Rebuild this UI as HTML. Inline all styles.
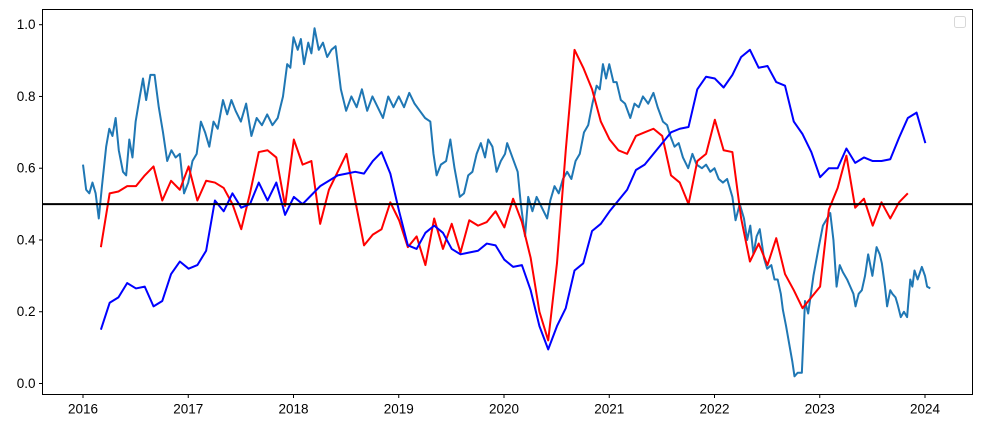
<!DOCTYPE html>
<html><head><meta charset="utf-8"><style>
html,body{margin:0;padding:0;background:#fff;}
svg{display:block;font-family:"Liberation Sans","DejaVu Sans",sans-serif;}
</style></head><body>
<svg id="chart" width="981" height="428" viewBox="0 0 981 428">
<rect x="0" y="0" width="981" height="428" fill="#fff"/>
<g id="series"></g>
<g id="axes"></g>
</svg>
<script>
const yTicks=[0.0,0.2,0.4,0.6,0.8,1.0];
const xTicks=[2016,2017,2018,2019,2020,2021,2022,2023,2024];
const threshold=0.5;
const tealDates=[2016.00,2016.03,2016.06,2016.09,2016.12,2016.15,2016.18,2016.22,2016.25,2016.28,2016.31,2016.34,2016.38,2016.41,2016.44,2016.47,2016.50,2016.54,2016.57,2016.60,2016.64,2016.68,2016.72,2016.76,2016.80,2016.84,2016.88,2016.92,2016.96,2017.00,2017.04,2017.08,2017.12,2017.16,2017.20,2017.24,2017.28,2017.33,2017.37,2017.41,2017.45,2017.50,2017.55,2017.60,2017.65,2017.70,2017.75,2017.80,2017.85,2017.90,2017.94,2017.97,2018.00,2018.04,2018.07,2018.10,2018.14,2018.17,2018.20,2018.24,2018.28,2018.32,2018.36,2018.40,2018.45,2018.50,2018.55,2018.60,2018.65,2018.70,2018.75,2018.80,2018.85,2018.90,2018.95,2019.00,2019.05,2019.10,2019.15,2019.20,2019.25,2019.30,2019.33,2019.36,2019.40,2019.45,2019.49,2019.53,2019.58,2019.62,2019.66,2019.70,2019.74,2019.78,2019.82,2019.85,2019.89,2019.93,2019.97,2020.01,2020.03,2020.08,2020.13,2020.16,2020.20,2020.23,2020.27,2020.31,2020.36,2020.41,2020.44,2020.48,2020.52,2020.56,2020.60,2020.64,2020.68,2020.72,2020.76,2020.80,2020.84,2020.88,2020.91,2020.94,2020.97,2021.00,2021.04,2021.07,2021.11,2021.15,2021.20,2021.24,2021.28,2021.32,2021.37,2021.42,2021.46,2021.51,2021.55,2021.58,2021.62,2021.66,2021.70,2021.75,2021.79,2021.83,2021.88,2021.92,2021.96,2022.00,2022.04,2022.08,2022.12,2022.17,2022.20,2022.24,2022.28,2022.31,2022.34,2022.37,2022.40,2022.43,2022.47,2022.50,2022.54,2022.57,2022.60,2022.63,2022.65,2022.68,2022.71,2022.74,2022.76,2022.79,2022.83,2022.86,2022.89,2022.94,2022.99,2023.03,2023.07,2023.10,2023.13,2023.16,2023.19,2023.22,2023.26,2023.29,2023.32,2023.34,2023.37,2023.40,2023.43,2023.46,2023.50,2023.54,2023.57,2023.59,2023.62,2023.64,2023.67,2023.69,2023.72,2023.74,2023.77,2023.80,2023.83,2023.86,2023.88,2023.90,2023.93,2023.97,2024.00,2024.02,2024.05];
const tealValues=[0.61,0.54,0.53,0.56,0.53,0.46,0.55,0.66,0.71,0.69,0.74,0.65,0.59,0.58,0.68,0.63,0.73,0.80,0.85,0.79,0.86,0.86,0.77,0.70,0.62,0.65,0.63,0.64,0.53,0.56,0.62,0.64,0.73,0.70,0.66,0.73,0.71,0.79,0.75,0.79,0.76,0.73,0.78,0.69,0.74,0.72,0.75,0.72,0.74,0.80,0.89,0.88,0.965,0.93,0.96,0.89,0.95,0.92,0.99,0.93,0.95,0.91,0.93,0.94,0.82,0.76,0.80,0.77,0.82,0.76,0.80,0.77,0.74,0.80,0.77,0.80,0.77,0.81,0.78,0.76,0.74,0.73,0.64,0.58,0.61,0.62,0.68,0.60,0.52,0.53,0.58,0.59,0.64,0.67,0.63,0.68,0.66,0.59,0.62,0.64,0.67,0.63,0.59,0.50,0.41,0.52,0.48,0.52,0.49,0.46,0.51,0.55,0.53,0.57,0.59,0.57,0.62,0.64,0.70,0.72,0.78,0.83,0.82,0.89,0.85,0.89,0.84,0.84,0.79,0.78,0.74,0.78,0.77,0.80,0.78,0.81,0.77,0.73,0.72,0.69,0.66,0.67,0.63,0.60,0.64,0.61,0.60,0.61,0.59,0.60,0.57,0.56,0.57,0.52,0.455,0.50,0.46,0.40,0.44,0.36,0.41,0.43,0.35,0.32,0.33,0.29,0.29,0.25,0.205,0.16,0.11,0.06,0.02,0.03,0.03,0.23,0.195,0.30,0.38,0.44,0.46,0.475,0.40,0.27,0.33,0.31,0.29,0.27,0.25,0.215,0.25,0.26,0.30,0.36,0.30,0.38,0.36,0.335,0.27,0.215,0.26,0.25,0.24,0.22,0.185,0.20,0.185,0.29,0.27,0.315,0.29,0.325,0.30,0.27,0.265];
const redStart=2016.17;
const redValues=[0.38,0.53,0.535,0.55,0.55,0.58,0.605,0.51,0.565,0.54,
0.605,0.51,0.565,0.56,0.545,0.50,0.43,0.53,0.645,0.65,0.63,0.495,
0.68,0.61,0.62,0.445,0.54,0.59,0.64,0.51,0.385,0.415,0.43,0.505,
0.455,0.38,0.41,0.33,0.46,0.375,0.445,0.365,0.455,0.44,0.45,0.48,
0.435,0.515,0.45,0.35,0.2,0.12,0.335,0.65,0.93,0.88,0.82,0.73,
0.68,0.65,0.64,0.69,0.70,0.71,0.69,0.58,0.56,0.50,0.62,0.64,
0.735,0.65,0.645,0.46,0.34,0.39,0.33,0.405,0.305,0.26,0.21,0.24,
0.27,0.485,0.545,0.635,0.49,0.515,0.44,0.505,0.46,0.505,0.53];
const blueStart=2016.17;
const blueValues=[0.15,0.225,0.24,0.28,0.265,0.27,0.215,0.23,0.305,0.34,
0.32,0.33,0.37,0.51,0.48,0.53,0.49,0.5,0.56,0.51,0.56,0.47,
0.52,0.50,0.525,0.55,0.565,0.58,0.585,0.59,0.585,0.62,0.645,0.585,
0.48,0.385,0.375,0.42,0.44,0.42,0.375,0.36,0.365,0.37,0.39,0.385,
0.345,0.325,0.33,0.26,0.16,0.095,0.16,0.21,0.315,0.335,0.425,0.445,
0.48,0.51,0.54,0.595,0.61,0.64,0.67,0.70,0.71,0.715,0.82,0.855,
0.85,0.825,0.86,0.91,0.93,0.88,0.885,0.84,0.83,0.73,0.695,0.645,
0.575,0.60,0.60,0.655,0.615,0.63,0.62,0.62,0.625,0.685,0.74,0.755,
0.67];

const NS='http://www.w3.org/2000/svg';
const L=42.5,T=9.5,R=972.5,B=394.5;
function xs(t){return 83+(t-2016)*105.25;}
function ys(v){return 383.5-v*358.8;}
function mk(tag,attrs,parent){const e=document.createElementNS(NS,tag);for(const k in attrs)e.setAttribute(k,attrs[k]);parent.appendChild(e);return e;}
const series=document.getElementById('series');
const axes=document.getElementById('axes');

function line(dates,vals,color,name){
  const d=vals.map((v,i)=>(i?'L':'M')+xs(dates[i]).toFixed(2)+','+ys(v).toFixed(2)).join(' ');
  const p=mk('path',{d:d,fill:'none',stroke:color,'stroke-width':2,'stroke-linejoin':'round'},series);
  
  
}
const redDates=redValues.map((v,i)=>redStart+i/12);
const blueDates=blueValues.map((v,i)=>blueStart+i/12);
line(tealDates,tealValues,'#1f77b4','teal-series-line');
line(redDates,redValues,'#ff0000','red-series-line');
line(blueDates,blueValues,'#0000ff','blue-series-line');

const th=mk('line',{x1:L,x2:R,y1:ys(threshold),y2:ys(threshold),stroke:'#000','stroke-width':2},series);



const frame=mk('rect',{x:L,y:T,width:R-L,height:B-T,fill:'none',stroke:'#000','stroke-width':1},axes);



yTicks.forEach(v=>{
  const y=ys(v);
  const tk=mk('line',{x1:L-3.5,x2:L,y1:y,y2:y,stroke:'#000','stroke-width':1},axes);
  
  
  const tx=mk('text',{x:L-7,y:y+4.5,'text-anchor':'end','font-size':'13.5px',fill:'#000'},axes);
  tx.textContent=v.toFixed(1);
  
  
});
xTicks.forEach(t=>{
  const x=xs(t);
  const tk=mk('line',{x1:x,x2:x,y1:B,y2:B+3.5,stroke:'#000','stroke-width':1},axes);
  
  
  const tx=mk('text',{x:x,y:B+19,'text-anchor':'middle','font-size':'13.5px',fill:'#000'},axes);
  tx.textContent=String(t);
  
  
});
const lg=mk('rect',{x:954.5,y:16.5,width:11,height:11,rx:2,fill:'#fff',stroke:'#d8d8d8','stroke-width':1},axes);


</script>
</body></html>
